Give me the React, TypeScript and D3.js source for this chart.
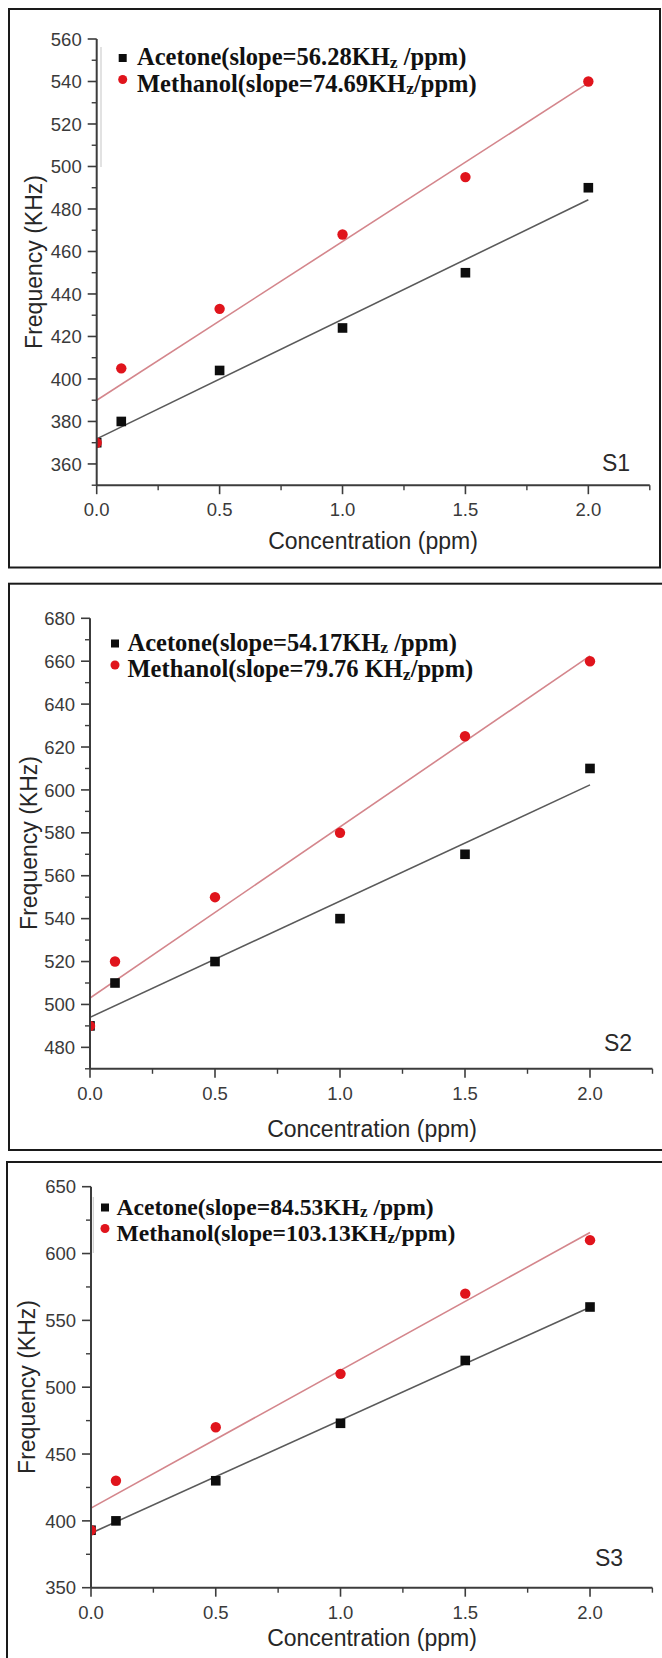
import React from "react";
import * as d3 from "d3";

// Concentrations shared by every sample (ppm)
const concentrations = [0, 0.1, 0.5, 1.0, 1.5, 2.0];

// Measured resonance frequency (KHz) per sample and gas
const s1Acetone = [370, 380, 404, 424, 450, 490];
const s1Methanol = [370, 405, 433, 468, 495, 540];
const s2Acetone = [490, 510, 520, 540, 570, 610];
const s2Methanol = [490, 520, 550, 580, 625, 660];
const s3Acetone = [393, 400, 430, 473, 520, 560];
const s3Methanol = [393, 430, 470, 510, 570, 610];

// Linear fits: slope (KHz/ppm) and intercept (KHz), [acetone, methanol]
const s1Slopes = [56.28, 74.69];
const s2Slopes = [54.17, 79.76];
const s3Slopes = [84.53, 103.13];
const s1Intercepts = [371.8, 390.0];
const s2Intercepts = [494.0, 503.0];
const s3Intercepts = [390.8, 409.5];

// Legend text pieces: before subscript, subscript, after subscript
const s1LegendA = ["Acetone(slope=56.28KH", "z", " /ppm)"];
const s1LegendM = ["Methanol(slope=74.69KH", "z", "/ppm)"];
const s2LegendA = ["Acetone(slope=54.17KH", "z", " /ppm)"];
const s2LegendM = ["Methanol(slope=79.76 KH", "z", "/ppm)"];
const s3LegendA = ["Acetone(slope=84.53KH", "z", " /ppm)"];
const s3LegendM = ["Methanol(slope=103.13KH", "z", "/ppm)"];

const sampleNames = ["S1", "S2", "S3"];
const yDomains: [number, number][] = [
  [350, 560],
  [470, 680],
  [350, 650],
];
const yMajorSteps = [20, 20, 50];
const xDomain: [number, number] = [0, 2.25];
const xMajorTicks = [0, 0.5, 1.0, 1.5, 2.0];
const xMinorTicks = [0.25, 0.75, 1.25, 1.75, 2.25];
const xTitle = "Concentration (ppm)";
const yTitle = "Frequency (KHz)";

const panelSeries = [
  { acetone: s1Acetone, methanol: s1Methanol, slopes: s1Slopes, intercepts: s1Intercepts, legend: [s1LegendA, s1LegendM] },
  { acetone: s2Acetone, methanol: s2Methanol, slopes: s2Slopes, intercepts: s2Intercepts, legend: [s2LegendA, s2LegendM] },
  { acetone: s3Acetone, methanol: s3Methanol, slopes: s3Slopes, intercepts: s3Intercepts, legend: [s3LegendA, s3LegendM] },
];

// Geometry of each framed panel
const layouts = [
  {
    frame: { x: 9, y: 9, w: 651, h: 558.5 },
    x0: 96.7, x225: 649.8, yTop: 39, yBottom: 485.2,
    legend: { mx: 122.7, tx: 137, b1: 65, b2: 91.5, fs: 24.5 },
    yTitle: { x: 42, y: 262 }, xTitle: { x: 373, y: 549 },
    tag: { x: 616, y: 471 },
    ghost: { x: 101, y1: 47, y2: 167 },
  },
  {
    frame: { x: 9, y: 583.7, w: 656, h: 566.3 },
    x0: 90, x225: 652.5, yTop: 618.3, yBottom: 1068.8,
    legend: { mx: 115, tx: 127.5, b1: 650.5, b2: 677, fs: 24.5 },
    yTitle: { x: 37, y: 843 }, xTitle: { x: 372, y: 1137 },
    tag: { x: 618, y: 1051 },
    ghost: null,
  },
  {
    frame: { x: 7, y: 1162, w: 658, h: 500 },
    x0: 91, x225: 652.4, yTop: 1186.7, yBottom: 1587.7,
    legend: { mx: 105, tx: 116.5, b1: 1214.5, b2: 1240.5, fs: 23.6 },
    yTitle: { x: 35, y: 1387 }, xTitle: { x: 372, y: 1646 },
    tag: { x: 609, y: 1566 },
    ghost: { x: 93.3, y1: 1197, y2: 1253 },
  },
];

const SANS = "'Liberation Sans', Arial, Helvetica, sans-serif";
const SERIF = "'Liberation Serif', 'Times New Roman', Times, serif";
const RED = "#e0141c";
const BLACK = "#0d0d0d";
const AXIS = "#3c3c3c";
const LINE_A = "#5a5a5a";
const LINE_M = "#d4868c";

function LegendLine({ x, y, parts, fs }: { x: number; y: number; parts: string[]; fs: number }) {
  return (
    <text x={x} y={y} fontFamily={SERIF} fontWeight="bold" fontSize={fs} fill="#111">
      <tspan>{parts[0]}</tspan>
      <tspan fontSize={fs * 0.72} dy={fs * 0.12}>{parts[1]}</tspan>
      <tspan dy={-fs * 0.12}>{parts[2]}</tspan>
    </text>
  );
}

function Panel({ idx }: { idx: number }) {
  const L = layouts[idx];
  const S = panelSeries[idx];
  const [d0, d1] = yDomains[idx];
  const step = yMajorSteps[idx];
  const x = d3.scaleLinear().domain(xDomain).range([L.x0, L.x225]);
  const y = d3.scaleLinear().domain([d0, d1]).range([L.yBottom, L.yTop]);

  const yMajor = d3.range(Math.ceil(d0 / step) * step, d1 + 1e-9, step);
  const yMinor = d3
    .range(Math.ceil(d0 / (step / 2)) * (step / 2), d1 + 1e-9, step / 2)
    .filter((v) => !yMajor.includes(v));

  const axisY = y(d0);
  const axisX = x(0);
  const clipId = `plot-clip-${idx}`;

  const fitLine = (slope: number, intercept: number) =>
    d3.line<number>()
      .x((c) => x(c))
      .y((c) => y(intercept + slope * c))([0, 2.0]) || "";

  const pts = (vals: number[]) => concentrations.map((c, i) => ({ c, v: vals[i] }));

  return (
    <g>
      <rect
        x={L.frame.x}
        y={L.frame.y}
        width={L.frame.w}
        height={L.frame.h}
        fill="none"
        stroke="#1a1a1a"
        strokeWidth={2}
      />
      <clipPath id={clipId}>
        <rect x={axisX} y={L.yTop - 30} width={L.x225 - axisX + 20} height={axisY - L.yTop + 30} />
      </clipPath>

      {L.ghost && (
        <line x1={L.ghost.x} x2={L.ghost.x} y1={L.ghost.y1} y2={L.ghost.y2} stroke="#cfcfcf" strokeWidth={1.2} />
      )}

      {/* fit lines and measured points */}
      <g clipPath={`url(#${clipId})`}>
        <path d={fitLine(S.slopes[0], S.intercepts[0])} stroke={LINE_A} strokeWidth={1.6} fill="none" />
        <path d={fitLine(S.slopes[1], S.intercepts[1])} stroke={LINE_M} strokeWidth={1.6} fill="none" />
        {pts(S.acetone).map((p, i) => (
          <rect key={`a${i}`} x={x(p.c) - 4.8} y={y(p.v) - 4.8} width={9.6} height={9.6} fill={BLACK} />
        ))}
        {pts(S.methanol).map((p, i) => (
          <circle key={`m${i}`} cx={x(p.c)} cy={y(p.v)} r={5.2} fill={RED} />
        ))}
      </g>

      {/* y axis */}
      <line x1={axisX} x2={axisX} y1={y(d1)} y2={axisY} stroke={AXIS} strokeWidth={2} />
      {yMajor.map((v) => (
        <g key={`ym${v}`}>
          <line x1={axisX - 9} x2={axisX} y1={y(v)} y2={y(v)} stroke={AXIS} strokeWidth={1.6} />
          <text
            x={axisX - 15}
            y={y(v)}
            dy="0.36em"
            textAnchor="end"
            fontFamily={SANS}
            fontSize={18.5}
            fill="#3a3a3a"
          >
            {v}
          </text>
        </g>
      ))}
      {yMinor.map((v) => (
        <line key={`yn${v}`} x1={axisX - 5} x2={axisX} y1={y(v)} y2={y(v)} stroke={AXIS} strokeWidth={1.4} />
      ))}

      {/* x axis */}
      <line x1={axisX} x2={x(xDomain[1])} y1={axisY} y2={axisY} stroke={AXIS} strokeWidth={2} />
      {xMajorTicks.map((v) => (
        <g key={`xm${v}`}>
          <line x1={x(v)} x2={x(v)} y1={axisY} y2={axisY + 9} stroke={AXIS} strokeWidth={1.6} />
          <text
            x={x(v)}
            y={axisY + 31}
            textAnchor="middle"
            fontFamily={SANS}
            fontSize={18.5}
            fill="#3a3a3a"
          >
            {d3.format(".1f")(v)}
          </text>
        </g>
      ))}
      {xMinorTicks.map((v) => (
        <line key={`xn${v}`} x1={x(v)} x2={x(v)} y1={axisY} y2={axisY + 5} stroke={AXIS} strokeWidth={1.4} />
      ))}

      {/* titles */}
      <text
        x={L.xTitle.x}
        y={L.xTitle.y}
        textAnchor="middle"
        fontFamily={SANS}
        fontSize={23}
        fill="#262626"
      >
        {xTitle}
      </text>
      <text
        transform={`translate(${L.yTitle.x},${L.yTitle.y}) rotate(-90)`}
        textAnchor="middle"
        fontFamily={SANS}
        fontSize={23}
        fill="#262626"
      >
        {yTitle}
      </text>
      <text x={L.tag.x} y={L.tag.y} textAnchor="middle" fontFamily={SANS} fontSize={23} fill="#2a2a2a">
        {sampleNames[idx]}
      </text>

      {/* legend */}
      <rect x={L.legend.mx - 4} y={L.legend.b1 - 11} width={8} height={8} fill={BLACK} />
      <circle cx={L.legend.mx} cy={L.legend.b2 - 12} r={4.5} fill={RED} />
      <LegendLine x={L.legend.tx} y={L.legend.b1} parts={S.legend[0]} fs={L.legend.fs} />
      <LegendLine x={L.legend.tx} y={L.legend.b2} parts={S.legend[1]} fs={L.legend.fs} />
    </g>
  );
}

export default function App() {
  return (
    <svg
      width={662}
      height={1658}
      viewBox="0 0 662 1658"
      style={{ position: "absolute", left: 0, top: 0, background: "#fff" }}
    >
      <rect x={0} y={0} width={662} height={1658} fill="#fff" />
      {layouts.map((_, i) => (
        <Panel key={i} idx={i} />
      ))}
    </svg>
  );
}
